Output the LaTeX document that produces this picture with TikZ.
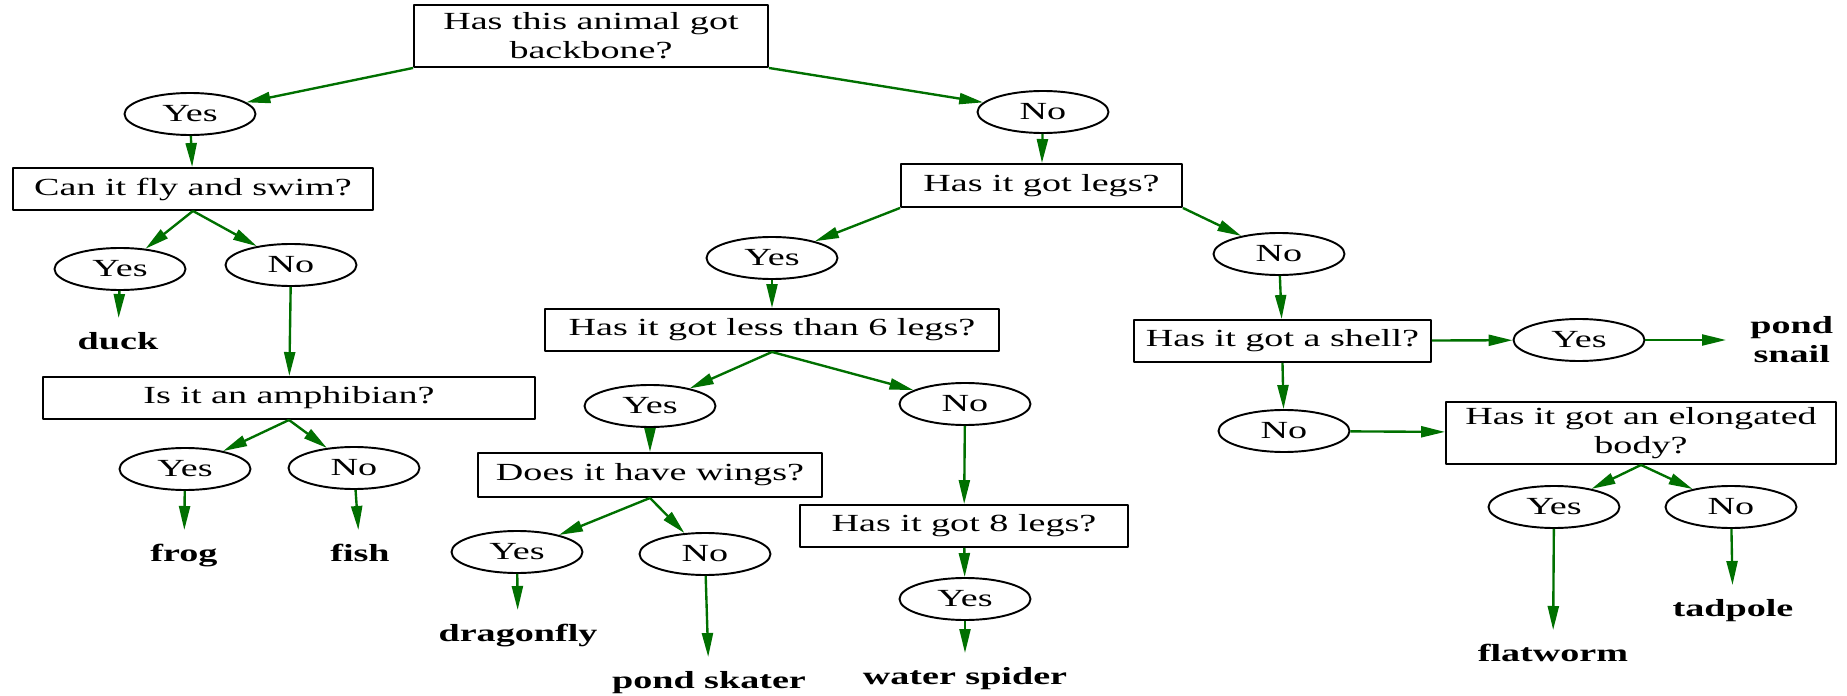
\documentclass[tikz,border=0pt]{standalone}
\usepackage{fontspec}
\setmainfont{Liberation Serif}[FakeStretch=1.55]
\usetikzlibrary{arrows.meta,shapes.geometric}
\definecolor{edgegreen}{RGB}{0,112,0}
\def\px{0.02cm}
\begin{document}
\begin{tikzpicture}[x=0.02cm,y=-0.02cm,line join=round,
  every node/.style={font=\fontsize{14}{16.5}\selectfont},
  qbox/.style 2 args={draw,rectangle,line width=1.1pt,inner sep=0pt,align=center,minimum width=#1*\px,minimum height=#2*\px},
  ans/.style={draw,ellipse,line width=1.1pt,inner sep=0pt,minimum width=131*\px,minimum height=42*\px},
  leaf/.style={font=\fontsize{14}{16.5}\selectfont\bfseries,inner xsep=24*\px,inner ysep=14*\px,align=center},
  arr/.style={draw=edgegreen,line width=1.35pt,-{Triangle[length=0.48cm,width=0.22cm]}}]
  \useasboundingbox (0,0) rectangle (1847,696);
  \node[qbox={354}{62}] (root) at (591,36) {Has this animal got\\backbone?};
  \node[ans] (yesBone) at (190,114) {Yes};
  \node[ans] (noBone) at (1043,112) {No};
  \node[qbox={360}{42}] (fly) at (193,189) {Can it fly and swim?};
  \node[ans] (yesFly) at (120,269) {Yes};
  \node[ans] (noFly) at (291,265) {No};
  \node[leaf,anchor=north] (duck) at (118,318) {duck};
  \node[qbox={492}{42}] (amph) at (289,398) {Is it an amphibian?};
  \node[ans] (yesAmph) at (185,469) {Yes};
  \node[ans] (noAmph) at (354,468) {No};
  \node[leaf,anchor=north] (frog) at (184,530) {frog};
  \node[leaf,anchor=north] (fish) at (360,530) {fish};
  \node[qbox={281}{43}] (legs) at (1041.5,185.5) {Has it got legs?};
  \node[ans] (yesLegs) at (772,258) {Yes};
  \node[ans] (noLegs) at (1279,254) {No};
  \node[qbox={454}{42}] (lessSix) at (772,330) {Has it got less than 6 legs?};
  \node[ans] (yesLess) at (650,406) {Yes};
  \node[ans] (noLess) at (965,404) {No};
  \node[qbox={344}{44}] (wings) at (650,475) {Does it have wings?};
  \node[ans] (yesWings) at (517,552) {Yes};
  \node[ans] (noWings) at (705,554) {No};
  \node[leaf,anchor=north] (dragonfly) at (518,610) {dragonfly};
  \node[leaf,anchor=north] (skater) at (709,657) {pond skater};
  \node[qbox={328}{42}] (eight) at (964,526) {Has it got 8 legs?};
  \node[ans] (yesEight) at (965,599) {Yes};
  \node[leaf,anchor=north] (spider) at (965,653) {water spider};
  \node[qbox={297}{42}] (shell) at (1282.5,341) {Has it got a shell?};
  \node[ans] (yesShell) at (1579,340) {Yes};
  \node[leaf,anchor=west] (snail) at (1726,340) {pond\\snail};
  \node[ans] (noShell) at (1284,431) {No};
  \node[qbox={390}{62}] (elong) at (1641,433) {Has it got an elongated\\body?};
  \node[ans] (yesElong) at (1554,507) {Yes};
  \node[ans] (noElong) at (1731,507) {No};
  \node[leaf,anchor=north] (flatworm) at (1553,630) {flatworm};
  \node[leaf,anchor=north] (tadpole) at (1733,585) {tadpole};
  \draw[arr] (root.south west) -- (yesBone);
  \draw[arr] (root.south east) -- (noBone);
  \draw[arr] (yesBone) -- (fly);
  \draw[arr] (fly.south) -- (yesFly);
  \draw[arr] (fly.south) -- (noFly);
  \draw[arr] (yesFly) -- (duck);
  \draw[arr] (noFly) -- (amph);
  \draw[arr] (amph.south) -- (yesAmph);
  \draw[arr] (amph.south) -- (noAmph);
  \draw[arr] (yesAmph) -- (frog);
  \draw[arr] (noAmph) -- (fish);
  \draw[arr] (noBone) -- (legs);
  \draw[arr] (legs.south west) -- (yesLegs);
  \draw[arr] (legs.south east) -- (noLegs);
  \draw[arr] (yesLegs) -- (lessSix);
  \draw[arr] (lessSix.south) -- (yesLess);
  \draw[arr] (lessSix.south) -- (noLess);
  \draw[arr] (yesLess) -- (wings);
  \draw[arr] (wings.south) -- (yesWings);
  \draw[arr] (wings.south) -- (noWings);
  \draw[arr] (yesWings) -- (dragonfly);
  \draw[arr] (noWings) -- (skater);
  \draw[arr] (noLess) -- (eight);
  \draw[arr] (eight) -- (yesEight);
  \draw[arr] (yesEight) -- (spider);
  \draw[arr] (noLegs) -- (shell);
  \draw[arr] (shell) -- (yesShell);
  \draw[arr] (yesShell) -- (snail);
  \draw[arr] (shell.south) -- (noShell);
  \draw[arr] (noShell) -- (elong);
  \draw[arr] (elong.south) -- (yesElong);
  \draw[arr] (elong.south) -- (noElong);
  \draw[arr] (yesElong) -- (flatworm);
  \draw[arr] (noElong) -- (tadpole);
\end{tikzpicture}
\end{document}
